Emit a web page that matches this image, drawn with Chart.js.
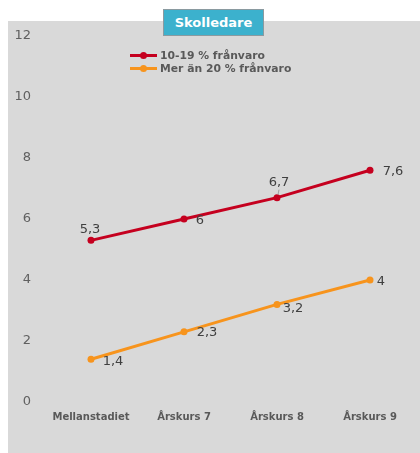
<!DOCTYPE html>
<html>
<head>
<meta charset="utf-8">
<script src="https://cdn.jsdelivr.net/npm/chart.js@4/dist/chart.umd.min.js"></script>
<style>
  html, body { margin: 0; padding: 0; background: #ffffff; }
  #wrap { position: relative; width: 420px; height: 453px; overflow: hidden; }
  #c { position: absolute; left: 0; top: 0; }
  #title {
    position: absolute; left: 163px; top: 9px; width: 99px; height: 25px;
    background: #3cb1cd; border: 1px solid #8a9aa0;
    color: #ffffff; font: bold 13px "DejaVu Sans", Verdana, sans-serif;
    text-align: center; line-height: 25px;
  }
  #legend { position: absolute; left: 130px; top: 49px; font: bold 10.8px "DejaVu Sans", Verdana, sans-serif; color: #595959; }
  .li { display: flex; align-items: center; height: 13px; }
  .sw { position: relative; width: 27px; height: 3px; margin-right: 3px; }
  .sw i { position: absolute; left: 10px; top: -2px; width: 7px; height: 7px; border-radius: 50%; }
</style>
</head>
<body>
<div id="wrap">
  <canvas id="c" width="420" height="453"></canvas>
  <div id="title">Skolledare</div>
  <div id="legend"></div>
</div>
<script>
const categories = ["Mellanstadiet", "Årskurs 7", "Årskurs 8", "Årskurs 9"];
const seriesNames = ["10-19 % frånvaro", "Mer än 20 % frånvaro"];
const absence10to19 = [5.3, 6, 6.7, 7.6];
const absenceOver20 = [1.4, 2.3, 3.2, 4];
const yTicks = [0, 2, 4, 6, 8, 10, 12];

const colors = ["#c5001f", "#f7941d"];
// label offsets (style only): [dx, dy] from point
const labelOffsets = [
  [[-1, -11], [16, 2], [2, -15], [23, 1]],
  [[22, 2], [23, 1], [16, 4], [11, 2]]
];

const fmt = v => String(v).replace('.', ',');

const bgPlugin = {
  id: 'bg',
  beforeDraw(chart) {
    const ctx = chart.ctx;
    ctx.save();
    ctx.fillStyle = '#d9d9d9';
    ctx.fillRect(8, 21, 412, 432);
    ctx.restore();
  }
};

const labelPlugin = {
  id: 'dlabels',
  afterDatasetsDraw(chart) {
    const ctx = chart.ctx;
    ctx.save();
    ctx.font = '13px "DejaVu Sans", Verdana, sans-serif';
    ctx.fillStyle = '#404040';
    ctx.textAlign = 'center';
    ctx.textBaseline = 'middle';
    chart.data.datasets.forEach((ds, di) => {
      const meta = chart.getDatasetMeta(di);
      meta.data.forEach((pt, i) => {
        const off = labelOffsets[di][i];
        ctx.fillText(fmt(ds.data[i]), pt.x + off[0], pt.y + off[1]);
      });
    });
    // small leader line for 6,7
    const p = chart.getDatasetMeta(0).data[2];
    ctx.strokeStyle = '#a0a0a0';
    ctx.lineWidth = 1;
    ctx.beginPath();
    ctx.moveTo(p.x + 1, p.y - 3);
    ctx.lineTo(p.x + 2, p.y - 8);
    ctx.stroke();
    ctx.restore();
  }
};

const datasets = [absence10to19, absenceOver20].map((d, i) => ({
  label: seriesNames[i],
  data: d,
  borderColor: colors[i],
  backgroundColor: colors[i],
  borderWidth: 3,
  pointRadius: 3.5,
  pointHoverRadius: 3.5,
  pointBorderWidth: 0,
  tension: 0
}));

new Chart(document.getElementById('c'), {
  type: 'line',
  data: { labels: categories, datasets },
  options: {
    responsive: false,
    animation: false,
    devicePixelRatio: 1,
    layout: { padding: { top: 36, left: 0, right: 2.5, bottom: 0 } },
    plugins: { legend: { display: false }, tooltip: { enabled: false }, title: { display: false } },
    scales: {
      x: {
        offset: true,
        grid: { display: false, drawTicks: false },
        border: { display: false },
        ticks: { color: '#595959', font: { family: '"DejaVu Sans", Verdana, sans-serif', size: 10, weight: 'bold' }, padding: 9, maxRotation: 0 },
        afterFit(s) { s.height = 51; }
      },
      y: {
        min: 0, max: 12,
        afterBuildTicks(s) { s.ticks = yTicks.map(v => ({ value: v })); },
        grid: { display: false, drawTicks: false },
        border: { display: false },
        ticks: { color: '#606060', font: { family: '"DejaVu Sans", Verdana, sans-serif', size: 13 }, padding: 13.5 },
        afterFit(s) { s.width = 44.5; }
      }
    }
  },
  plugins: [bgPlugin, labelPlugin]
});

// HTML legend built from series data
const lg = document.getElementById('legend');
seriesNames.forEach((n, i) => {
  const row = document.createElement('div');
  row.className = 'li';
  row.innerHTML = '<span class="sw" style="background:' + colors[i] + '"><i style="background:' + colors[i] + '"></i></span>' + n;
  lg.appendChild(row);
});
</script>
</body>
</html>
